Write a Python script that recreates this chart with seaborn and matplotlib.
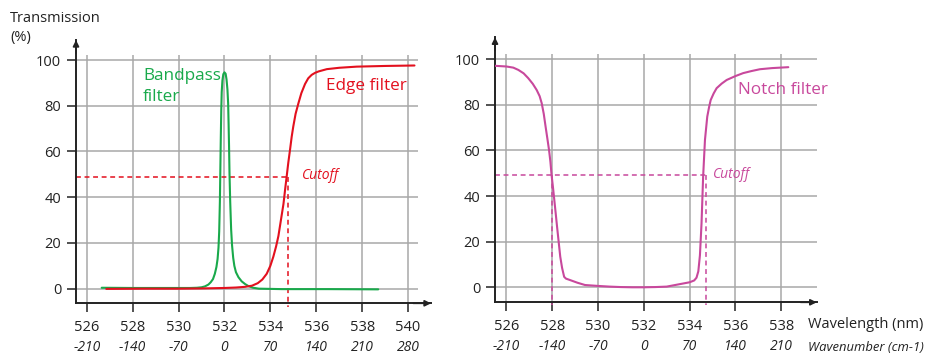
import matplotlib
matplotlib.use("Agg")
import matplotlib.pyplot as plt
import numpy as np
import pandas as pd
import seaborn as sns

# ---- data -------------------------------------------------------------
bandpass_nm = [526.65, 528.0, 529.5, 530.5, 530.8, 531.0, 531.15, 531.3, 531.4,
               531.5, 531.58, 531.65, 531.70, 531.74, 531.77, 531.80, 531.82,
               531.84, 531.86, 531.88, 531.91, 531.95, 532.0, 532.05, 532.09,
               532.13, 532.16, 532.18, 532.20, 532.22, 532.25, 532.29, 532.33,
               532.38, 532.43, 532.50, 532.61, 532.75, 532.90, 533.05, 533.25,
               533.5, 534.5, 536.5, 538.7]
bandpass_pct = [0.4, 0.3, 0.3, 0.3, 0.4, 0.6, 1.0, 1.8, 2.8, 4.2, 6.5, 9.5, 13,
                18, 25, 38, 52, 66, 78, 86, 91, 93.8, 94.6, 94.0, 91.5, 87, 81,
                72, 62, 50, 38, 26, 19, 13.5, 10, 7.2, 5.0, 3.2, 2.0, 1.1, 0.4,
                0.0, -0.2, -0.2, -0.3]

edge_nm = [526.85, 528.5, 530.0, 531.0, 532.0, 532.5, 532.9, 533.2, 533.45,
           533.65, 533.84, 534.0, 534.13, 534.25, 534.35, 534.46, 534.57, 534.65,
           534.71, 534.78, 534.86, 534.93, 535.0, 535.1, 535.22, 535.35, 535.51,
           535.65, 535.80, 535.95, 536.1, 536.46, 537.0, 537.76, 539.0, 540.28]
edge_pct = [-0.1, 0.0, 0.0, 0.1, 0.3, 0.5, 0.8, 1.3, 2.4, 4.0, 6.5, 10, 14, 18.5,
            23, 30, 37, 44, 49, 55, 61, 66.5, 71, 76.5, 81, 85.5, 89.5, 92, 93.5,
            94.4, 95, 96, 96.6, 97.1, 97.4, 97.6]

notch_nm = [525.5, 526.0, 526.3, 526.52, 526.75, 526.95, 527.15, 527.32, 527.45,
            527.54, 527.63, 527.71, 527.79, 527.86, 527.92, 527.97, 528.03,
            528.09, 528.15, 528.21, 528.28, 528.35, 528.43, 528.52, 528.6,
            528.77, 529.1, 529.43, 530.0, 530.5, 531.0, 531.5, 532.0, 532.5,
            533.0, 533.58, 534.0, 534.2, 534.3, 534.38, 534.45, 534.52, 534.59,
            534.67, 534.77, 534.85, 534.92, 535.05, 535.18, 535.4, 535.62, 536.0,
            536.34, 536.7, 537.07, 537.6, 538.31]
notch_pct = [97.1, 96.8, 96.3, 95.3, 93.8, 91.7, 89.2, 86.5, 83.8, 80.7, 76,
             70.4, 65, 60.2, 55, 49.3, 44, 38.3, 32.5, 26.6, 20, 13.4, 8.5, 4.6,
             3.8, 3.2, 2.0, 1.0, 0.6, 0.3, 0.1, 0.0, 0.0, 0.1, 0.3, 1.4, 2.2, 3.0,
             4.2, 7, 14, 28, 48.5, 64.6, 74.8, 79, 82.1, 85, 87.3, 89.3, 90.9,
             92.6, 93.9, 94.8, 95.6, 96.1, 96.5]

edge_cutoff_nm = [534.75]
edge_cutoff_pct = 49
notch_cutoff_nm = [528.0, 534.7]
notch_cutoff_pct = 49.2

left_wl_ticks = [526, 528, 530, 532, 534, 536, 538, 540]
left_wn_labels = ["-210", "-140", "-70", "0", "70", "140", "210", "280"]
right_wl_ticks = [526, 528, 530, 532, 534, 536, 538]
right_wn_labels = ["-210", "-140", "-70", "0", "70", "140", "210"]
y_ticks = [0, 20, 40, 60, 80, 100]

GREEN = "#19a94b"
RED = "#e3101e"
MAGENTA = "#c8489c"
DARK = "#222222"
GRID = "#a8a8a8"

# ---- style ------------------------------------------------------------
sns.set_theme(style="white")
plt.rcParams["font.family"] = ["Open Sans", "DejaVu Sans"]
plt.rcParams["text.color"] = DARK
plt.rcParams["xtick.color"] = DARK
plt.rcParams["ytick.color"] = DARK

W, H = 929, 354
fig = plt.figure(figsize=(W / 100, H / 100), dpi=100)
ax1 = fig.add_axes([76 / W, (H - 303.3) / H, 355 / W, (303.3 - 40) / H])
ax2 = fig.add_axes([495 / W, (H - 302.3) / H, 321.7 / W, (302.3 - 37.3) / H])

ax1.set_xlim(525.53, 541.0)
ax1.set_ylim(-6.4, 108.75)
ax2.set_xlim(525.5, 539.55)
ax2.set_ylim(-6.58, 109.6)


def frame(ax, wl_ticks, grid_right):
    for s in ("top", "right"):
        ax.spines[s].set_visible(False)
    for s in ("left", "bottom"):
        ax.spines[s].set_color(DARK)
        ax.spines[s].set_linewidth(1.4)
    ax.set_xticks(wl_ticks)
    ax.set_xticklabels([str(t) for t in wl_ticks])
    ax.set_yticks(y_ticks)
    ax.set_yticklabels([str(t) for t in y_ticks])
    ax.tick_params(axis="both", direction="out", length=6.3, width=1.1,
                   labelsize=10.5, color=DARK, left=True, bottom=True)
    ax.tick_params(axis="x", pad=5.5)
    ax.tick_params(axis="y", pad=4.3)
    x0, _ = ax.get_xlim()
    y0, _ = ax.get_ylim()
    ax.vlines(wl_ticks, y0, 102.3, colors=GRID, linewidth=1.1, zorder=0)
    ax.hlines(y_ticks, x0, grid_right, colors=GRID, linewidth=1.1, zorder=0)
    # axis arrows
    ax.annotate("", xy=(0, 1), xytext=(0, 0.95), xycoords="axes fraction",
                arrowprops=dict(arrowstyle="-|>", color=DARK, lw=1.2,
                                mutation_scale=9, shrinkA=0, shrinkB=0))
    ax.annotate("", xy=(1, 0), xytext=(0.95, 0), xycoords="axes fraction",
                arrowprops=dict(arrowstyle="-|>", color=DARK, lw=1.2,
                                mutation_scale=9, shrinkA=0, shrinkB=0))


frame(ax1, left_wl_ticks, 540.43)
frame(ax2, right_wl_ticks, 539.55)

# wavenumber row under the wavelength ticks
for ax, ticks, labels in ((ax1, left_wl_ticks, left_wn_labels),
                          (ax2, right_wl_ticks, right_wn_labels)):
    for t, lab in zip(ticks, labels):
        ax.annotate(lab, xy=(t, 0), xycoords=("data", "axes fraction"),
                    xytext=(0, -34.5), textcoords="offset points",
                    ha="center", va="baseline", fontsize=10, style="italic",
                    annotation_clip=False)

# ---- curves -----------------------------------------------------------
df_band = pd.DataFrame({"nm": bandpass_nm, "pct": bandpass_pct})
df_edge = pd.DataFrame({"nm": edge_nm, "pct": edge_pct})
df_notch = pd.DataFrame({"nm": notch_nm, "pct": notch_pct})

sns.lineplot(data=df_band, x="nm", y="pct", ax=ax1, color=GREEN, lw=1.5,
             estimator=None, sort=False, zorder=3)
sns.lineplot(data=df_edge, x="nm", y="pct", ax=ax1, color=RED, lw=1.5,
             estimator=None, sort=False, zorder=4)
sns.lineplot(data=df_notch, x="nm", y="pct", ax=ax2, color=MAGENTA, lw=1.5,
             estimator=None, sort=False, zorder=3)

# cutoff markers
dash = dict(linestyle=(0, (3.2, 2.4)), linewidth=1.1, clip_on=False, zorder=2)
ax1.plot([ax1.get_xlim()[0], edge_cutoff_nm[0]], [edge_cutoff_pct] * 2,
         color=RED, **dash)
ax1.plot([edge_cutoff_nm[0]] * 2, [edge_cutoff_pct, -8.0], color=RED, **dash)
ax2.plot([ax2.get_xlim()[0], notch_cutoff_nm[1]], [notch_cutoff_pct] * 2,
         color=MAGENTA, **dash)
for c in notch_cutoff_nm:
    ax2.plot([c, c], [notch_cutoff_pct, -7.8], color=MAGENTA, **dash)

for ax in (ax1, ax2):
    ax.set_xlabel("")
    ax.set_ylabel("")

# ---- labels -----------------------------------------------------------
ax1.text(528.45, 93.0, "Bandpass", color=GREEN, fontsize=12.3,
         ha="left", va="center")
ax1.text(528.45, 83.8, "filter", color=GREEN, fontsize=12.3,
         ha="left", va="center")
ax1.text(536.43, 88.5, "Edge filter", color=RED, fontsize=12.3, ha="left",
         va="center")
ax1.text(535.37, 49.5, "Cutoff", color=RED, fontsize=10, style="italic",
         ha="left", va="center")
ax2.text(536.1, 86.5, "Notch filter", color=MAGENTA, fontsize=12.3, ha="left",
         va="center")
ax2.text(535.0, 49.5, "Cutoff", color=MAGENTA, fontsize=10, style="italic",
         ha="left", va="center")

fig.text(10 / W, 1 - 18 / H, "Transmission", fontsize=10.5, ha="left",
         va="center")
fig.text(10 / W, 1 - 37 / H, "(%)", fontsize=10.5, ha="left", va="center")
fig.text(808 / W, 1 - 325 / H, "Wavelength (nm)", fontsize=10.5, ha="left",
         va="center")
fig.text(808 / W, 1 - 351 / H, "Wavenumber (cm-1)", fontsize=9.4,
         style="italic", ha="left", va="baseline")

fig.savefig("out.png", dpi=100)
